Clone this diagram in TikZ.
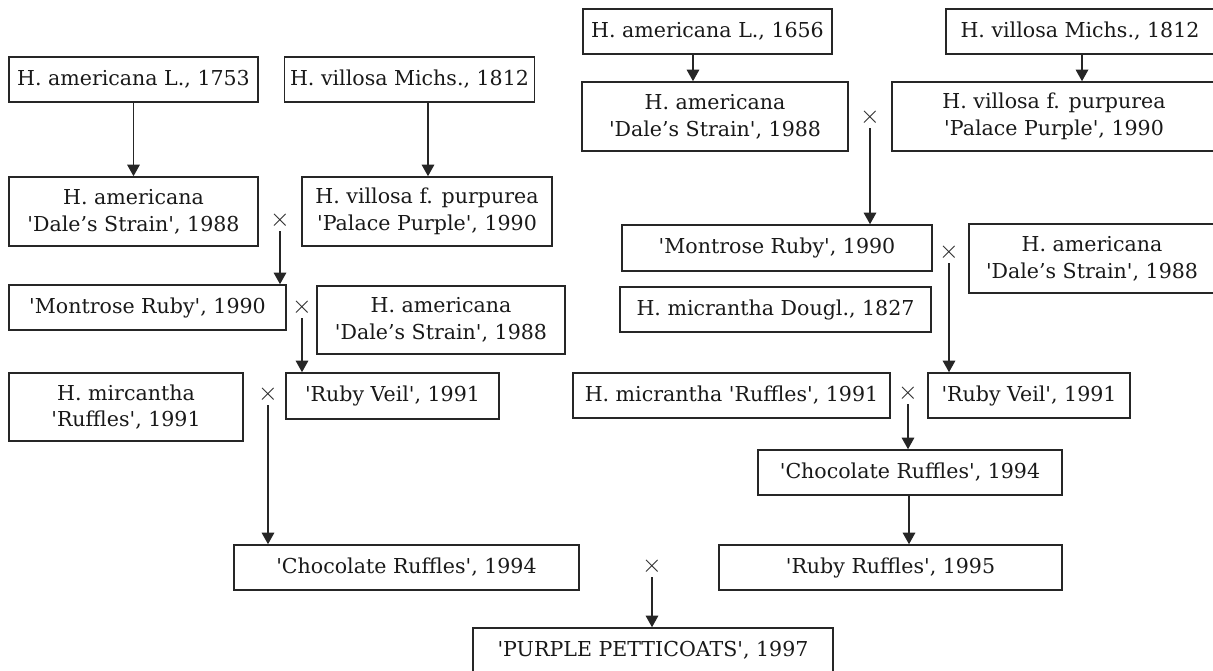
\documentclass[tikz,border=0pt]{standalone}
\usepackage{fontspec}
\setmainfont{DejaVu Serif}
\usepackage{tikz}
\usetikzlibrary{arrows.meta}
\newcommand{\sq}{\textquotesingle}

\begin{document}
\begin{tikzpicture}[x=0.02cm, y=-0.02cm,
  box/.style={draw=black!85, text=black!90, line width=0.9pt, align=center, inner sep=0pt, font=\fontsize{11.7}{15.2}\selectfont},
  cross/.style={inner sep=1.5pt, text=black!85, font=\fontsize{14}{14}\selectfont},
  arr/.style={draw=black!85, line width=0.7pt, -{Triangle[width=7.2pt,length=6.6pt]}}]
\useasboundingbox (0,0) rectangle (1213,671);
\foreach \nm/\x/\y/\w/\h/\txt in {
  amerL/133.5/79.5/249/45/{H. americana L., 1753},
  villL/409.5/79.5/250/45/{H. villosa Michs., 1812},
  daleL/133.5/211.5/249/69/{H. americana\\\sq Dale’s Strain\sq, 1988},
  palaceL/427/211.5/250/69/{H. villosa f. purpurea\\\sq Palace Purple\sq, 1990},
  montroseL/147.5/307.5/277/45/{\sq Montrose Ruby\sq, 1990},
  daleLb/441/320/248/68/{H. americana\\\sq Dale’s Strain\sq, 1988},
  ruffL/126/407/234/68/{H. mircantha\\\sq Ruffles\sq, 1991},
  veilL/392.5/396/213/46/{\sq Ruby Veil\sq, 1991},
  chocL/406.5/567.5/345/45/{\sq Chocolate Ruffles\sq, 1994},
  amerR/707.5/31.5/249/45/{H. americana L., 1656},
  villR/1080/31.5/268/45/{H. villosa Michs., 1812},
  daleR/715/116.5/266/69/{H. americana\\\sq Dale’s Strain\sq, 1988},
  palaceR/1054/116.5/324/69/{H. villosa f. purpurea\\\sq Palace Purple\sq, 1990},
  montroseR/777/248/310/46/{\sq Montrose Ruby\sq, 1990},
  daleRb/1092/258.5/246/69/{H. americana\\\sq Dale’s Strain\sq, 1988},
  douglR/775.5/309.5/311/45/{H. micrantha Dougl., 1827},
  ruffR/731.5/395.5/317/45/{H. micrantha \sq Ruffles\sq, 1991},
  veilR/1029/395.5/202/45/{\sq Ruby Veil\sq, 1991},
  chocR/910/472.5/304/45/{\sq Chocolate Ruffles\sq, 1994},
  rubyruff/890.5/567.5/343/45/{\sq Ruby Ruffles\sq, 1995},
  petticoats/653/650.5/360/45/{\sq PURPLE PETTICOATS\sq, 1997}}{
\node[box, minimum width=\w*0.02cm, minimum height=\h*0.02cm] (\nm) at (\x,\y) {\txt};
}
\foreach \nm/\x/\y in {cr1/280/220, cr2/302/307, cr3/268/394, cr4/870/117, cr5/949/252, cr6/908/393, cr7/652/566}{
\node[cross] (\nm) at (\x,\y) {$\times$};
}
% crosses
\foreach \c/\b in {cr1/montroseL, cr2/veilL, cr3/chocL, cr4/montroseR, cr5/veilR, cr6/chocR, cr7/petticoats}{
\draw[arr] (\c.south) -- (\c.south |- \b.north);
}
% straight descent
\foreach \a/\b/\x in {amerL/daleL/133.5, villL/palaceL/428, amerR/daleR/693, villR/palaceR/1082, chocR/rubyruff/909}{
\draw[arr] (\x,0 |- \a.south) -- (\x,0 |- \b.north);
}
\end{tikzpicture}
\end{document}
